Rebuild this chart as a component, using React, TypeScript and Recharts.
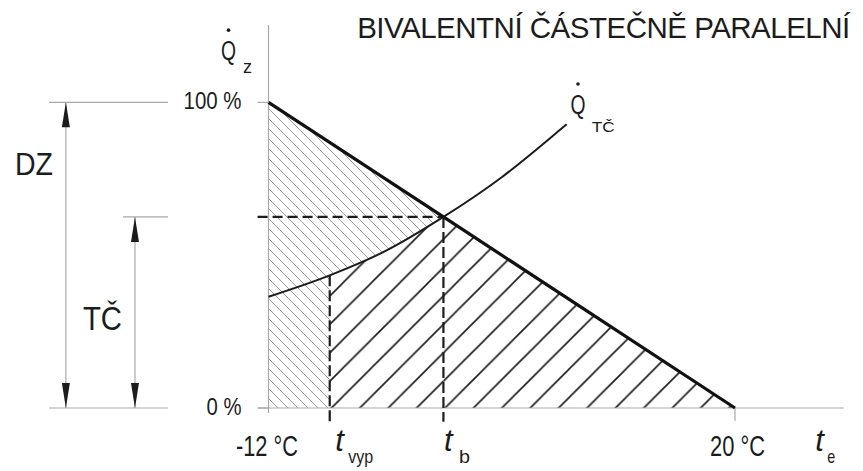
import React from 'react';
import { ComposedChart, Line, Area, XAxis, YAxis, ReferenceLine, ReferenceDot } from 'recharts';

const FONT = '"Liberation Sans", Arial, Helvetica, sans-serif';
const INK = '#1c1c1c';
const GRAY = '#a9a9a9';

// ---- data (outdoor temperature t_e in °C, heat demand in % of design load)
const T_BIV = 0; // t_b  (bivalent point)
const T_OFF = -7.8; // t_vyp (heat pump switch-off)

const demandX = [-12, 0, 20];
const demandY = [100, 62.5, 0];

const hpX = [-12, -7.8, -4, 0, 4, 8, 8.45];
const hpY = [36.4, 43.4, 51.3, 62.5, 75.5, 91, 92.8];

const Y_TICKS = [0, 100];
const Y_TICK_LABELS = ['0 %', '100 %'];

const X_TICKS = [-12, -7.8, 0, 20, 25.5];
const X_TICK_MAIN = ['-12 °C', 't', 't', '20 °C', 't'];
const X_TICK_SUB = ['', 'vyp', 'b', '', 'e'];

const TITLE = 'BIVALENTNÍ ČÁSTEČNĚ PARALELNÍ';

// annotation anchors (data coordinates)
const LEAD_X0 = -27.06;
const LEAD_X1 = -18.89;
const LEAD_MID_X0 = -21.98;
const DZ_X = -25.9;
const TC_X = -21.16;

// ---- derived tables
const demandData = demandX.map((x, i) => ({ x, v: demandY[i] }));
const hpData = hpX.map((x, i) => ({ x, v: hpY[i] }));
const lightData = demandData.filter((d) => d.x <= T_BIV);
const denseLineData = demandData.filter((d) => d.x >= T_BIV);
const denseCurveData = hpData.filter((d) => d.x >= T_OFF && d.x <= T_BIV);
const hpAtOff = hpY[hpX.indexOf(T_OFF)];
const demandAtBiv = demandY[demandX.indexOf(T_BIV)];

// ---- styling
const X_TICK_STYLE = [
  { dx: -1.5, len: 62 },
  { dx: 5.5, subDx: 18.5, subLen: 25 },
  { dx: 0.5, subDx: 15.5, subLen: 11 },
  { dx: 2.5, len: 55 },
  { dx: 0, subDx: 12, subLen: 8 },
];
const Y_TICK_LEN = [35, 58];

const Txt = ({ x, y, size, len, anchor = 'start', italic = false, spacing, children }: any) => (
  <text
    x={x}
    y={y}
    fontFamily={FONT}
    fontSize={size}
    textAnchor={anchor}
    fontStyle={italic ? 'italic' : 'normal'}
    fill={INK}
    letterSpacing={spacing}
    textLength={len}
    lengthAdjust={len ? 'spacingAndGlyphs' : undefined}
  >
    {children}
  </text>
);

const XTick = (props: any) => {
  const { x, y, payload } = props;
  const i = X_TICKS.indexOf(payload.value);
  if (i < 0) return null;
  const st: any = X_TICK_STYLE[i];
  const main = X_TICK_MAIN[i];
  const sub = X_TICK_SUB[i];
  if (!sub) {
    return (
      <Txt x={x + st.dx} y={y + 48} size={29} len={st.len} anchor="middle">
        {main}
      </Txt>
    );
  }
  return (
    <g>
      <Txt x={x + st.dx} y={y + 43} size={31} italic>
        {main}
      </Txt>
      <Txt x={x + st.subDx} y={y + 55} size={19} len={st.subLen}>
        {sub}
      </Txt>
    </g>
  );
};

const YTick = (props: any) => {
  const { x, y, payload } = props;
  const i = Y_TICKS.indexOf(payload.value);
  if (i < 0) return null;
  return (
    <Txt x={x} y={y + 7} size={23} len={Y_TICK_LEN[i]} anchor="end">
      {Y_TICK_LABELS[i]}
    </Txt>
  );
};

const ArrowShape = (p: any) => {
  const { x1, y1, y2 } = p;
  const top = Math.min(y1, y2);
  const bot = Math.max(y1, y2);
  return (
    <g>
      <line x1={x1} y1={top} x2={x1} y2={bot} stroke={GRAY} strokeWidth={1.2} />
      <path d={`M${x1},${top} L${x1 - 4},${top + 25} L${x1 + 4},${top + 25} Z`} fill={INK} />
      <path d={`M${x1},${bot} L${x1 - 4},${bot - 25} L${x1 + 4},${bot - 25} Z`} fill={INK} />
    </g>
  );
};

const textDot = (content: any) => (p: any) => content(p.cx, p.cy);

const QLabel = (sub: string, subDx: number, subDy: number, subSize: number, subLen: number) =>
  textDot((cx: number, cy: number) => (
    <g>
      <Txt x={cx} y={cy} size={27} len={15} anchor="middle">
        Q
      </Txt>
      <circle cx={cx} cy={cy - 30} r={1.8} fill={INK} />
      <Txt x={cx + subDx} y={cy + subDy} size={subSize} len={subLen}>
        {sub}
      </Txt>
    </g>
  ));

export default function App() {
  return (
    <div style={{ position: 'absolute', left: 0, top: 0, width: 863, height: 471, background: '#fff' }}>
      <ComposedChart
        width={863}
        height={471}
        margin={{ top: 25.9, right: 11.4, bottom: 0, left: 0 }}
      >
        <defs>
          <pattern id="hLight" patternUnits="userSpaceOnUse" width="10" height="10">
            <path d="M-1,-1 L11,11 M-1,9 L1,11 M9,-1 L11,1" stroke="#9a9a9a" strokeWidth="1" />
          </pattern>
          <pattern id="hDense" patternUnits="userSpaceOnUse" x="1" y="0" width="28.4" height="28.4">
            <rect width="28.4" height="28.4" fill="#fff" />
            <path
              d="M-2,30.4 L30.4,-2 M-2,2 L2,-2 M26.4,30.4 L30.4,26.4"
              stroke="#1a1a1a"
              strokeWidth="1.6"
            />
          </pattern>
        </defs>
        <XAxis
          type="number"
          dataKey="x"
          domain={[-12, 28]}
          ticks={X_TICKS}
          interval={0}
          axisLine={false}
          tickLine={false}
          tickSize={0}
          tickMargin={0}
          height={63}
          tick={<XTick />}
        />
        <YAxis
          type="number"
          domain={[0, 125]}
          ticks={Y_TICKS}
          interval={0}
          width={268.5}
          axisLine={false}
          tickLine={{ stroke: GRAY, strokeWidth: 1.2 }}
          tickSize={11}
          tickMargin={16}
          tick={<YTick />}
        />

        <Area data={lightData} dataKey="v" type="linear" stroke="none" fill="url(#hLight)" fillOpacity={1} isAnimationActive={false} dot={false} activeDot={false} />
        <Area data={denseLineData} dataKey="v" type="linear" stroke="none" fill="url(#hDense)" fillOpacity={1} isAnimationActive={false} dot={false} activeDot={false} />
        <Area data={denseCurveData} dataKey="v" type="monotone" stroke="none" fill="url(#hDense)" fillOpacity={1} isAnimationActive={false} dot={false} activeDot={false} />

        {/* axes lines */}
        <ReferenceLine segment={[{ x: -12, y: -1.6 }, { x: -12, y: 125.3 }]} stroke={GRAY} strokeWidth={1.2} ifOverflow="visible" />
        <ReferenceLine segment={[{ x: -12.72, y: 0 }, { x: 27.44, y: 0 }]} stroke={GRAY} strokeWidth={1.2} ifOverflow="visible" />
        <ReferenceLine segment={[{ x: 20, y: 0 }, { x: 20, y: -4.25 }]} stroke={GRAY} strokeWidth={1.2} ifOverflow="visible" />

        {/* dashed helpers */}
        <ReferenceLine segment={[{ x: -12.75, y: demandAtBiv }, { x: T_BIV, y: demandAtBiv }]} stroke={INK} strokeWidth={2.2} strokeDasharray="10 5" ifOverflow="visible" />
        <ReferenceLine segment={[{ x: T_BIV, y: demandAtBiv }, { x: T_BIV, y: -4.5 }]} stroke={INK} strokeWidth={2.2} strokeDasharray="11 4" ifOverflow="visible" />
        <ReferenceLine segment={[{ x: T_OFF, y: hpAtOff }, { x: T_OFF, y: -4.5 }]} stroke={INK} strokeWidth={2.2} strokeDasharray="11 4" ifOverflow="visible" />

        {/* left dimension annotations */}
        <ReferenceLine segment={[{ x: LEAD_X0, y: 100 }, { x: LEAD_X1, y: 100 }]} stroke={GRAY} strokeWidth={1.2} ifOverflow="visible" />
        <ReferenceLine segment={[{ x: LEAD_MID_X0, y: demandAtBiv }, { x: LEAD_X1, y: demandAtBiv }]} stroke={GRAY} strokeWidth={1.2} ifOverflow="visible" />
        <ReferenceLine segment={[{ x: LEAD_X0, y: 0 }, { x: LEAD_X1, y: 0 }]} stroke={GRAY} strokeWidth={1.2} ifOverflow="visible" />
        <ReferenceLine segment={[{ x: DZ_X, y: 0 }, { x: DZ_X, y: 100 }]} ifOverflow="visible" shape={ArrowShape} />
        <ReferenceLine segment={[{ x: TC_X, y: 0 }, { x: TC_X, y: demandAtBiv }]} ifOverflow="visible" shape={ArrowShape} />

        <Line data={hpData} dataKey="v" type="monotone" stroke={INK} strokeWidth={2} dot={false} activeDot={false} isAnimationActive={false} />
        <Line data={demandData} dataKey="v" type="linear" stroke="#111" strokeWidth={3.2} dot={false} activeDot={false} isAnimationActive={false} />

        {/* texts */}
        <ReferenceDot x={10.98} y={121.0} ifOverflow="visible" shape={textDot((cx: number, cy: number) => (
          <Txt x={cx} y={cy} size={29.5} spacing={-0.5} anchor="middle">{TITLE}</Txt>
        ))} />
        <ReferenceDot x={-26.78} y={76.2} ifOverflow="visible" shape={textDot((cx: number, cy: number) => (
          <Txt x={cx} y={cy} size={32} len={38} anchor="end">DZ</Txt>
        ))} />
        <ReferenceDot x={-22.05} y={25.5} ifOverflow="visible" shape={textDot((cx: number, cy: number) => (
          <Txt x={cx} y={cy} size={33} len={39} anchor="end">TČ</Txt>
        ))} />
        <ReferenceDot x={-14.74} y={113.8} ifOverflow="visible" shape={QLabel('z', 14.5, 13, 19, 9)} />
        <ReferenceDot x={9.23} y={96.2} ifOverflow="visible" shape={QLabel('TČ', 13.7, 18, 15, 23)} />
      </ComposedChart>
    </div>
  );
}
